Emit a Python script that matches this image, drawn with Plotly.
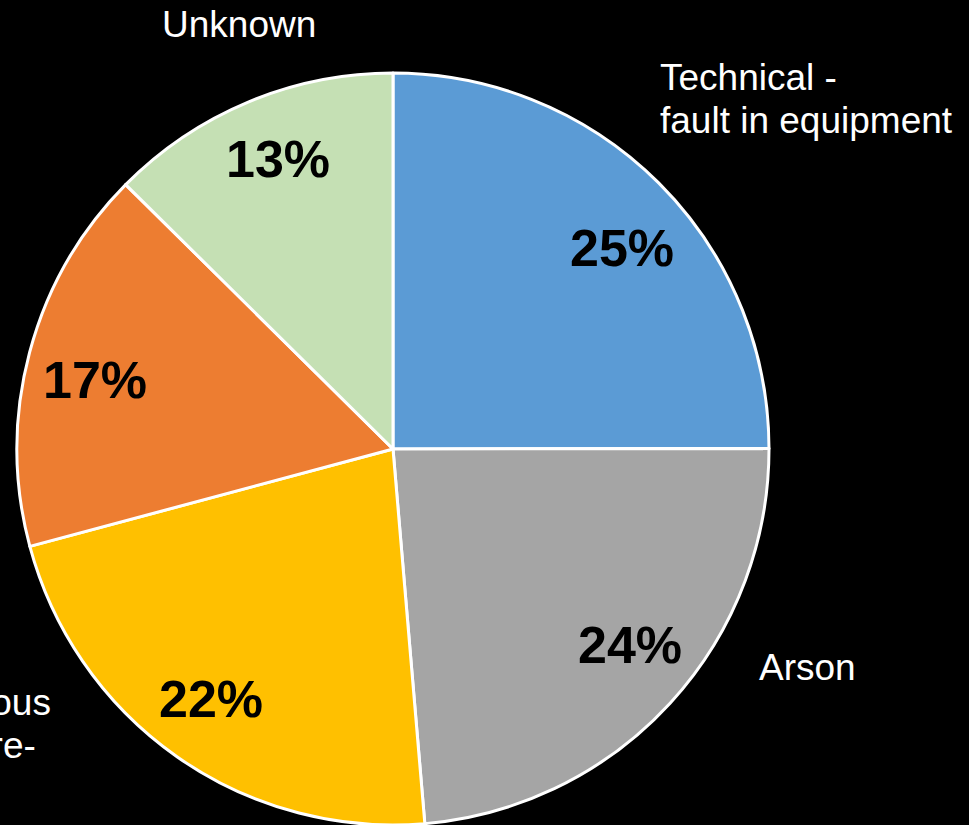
import math
import plotly.graph_objects as go

# ---- data ----
categories = ["Technical - fault in equipment", "Arson", "Careless/erroneous use of fire-related equipment",
              "Other causes", "Unknown"]
values = [25.0, 23.7, 22.2, 16.6, 12.6]
colors = ["#5B9BD5", "#A5A5A5", "#FFC000", "#ED7D31", "#C5E0B4"]

W, H = 969, 825
CX, CY, R = 393, 450, 377  # pie geometry in pixels

fig = go.Figure()
fig.add_trace(go.Pie(
    labels=categories,
    values=values,
    sort=False,
    direction="clockwise",
    rotation=0,
    marker=dict(colors=colors, line=dict(color="white", width=3)),
    textinfo="none",
    hoverinfo="label+percent",
    showlegend=False,
    domain=dict(x=[(CX - R) / W, (CX + R) / W], y=[0, 1 - (CY - R) / H]),
))

# percentage labels placed near each slice's mid-angle (small pixel nudges as in the original)
pct_nudge = [(11, 18), (9, -13), (-4, -3), (1, 10), (4, -5)]
total = sum(values)
cum = 0.0
annotations = []
for v, (nx, ny) in zip(values, pct_nudge):
    mid = (cum + v / 2) / total * 2 * math.pi
    cum += v
    px = CX + 0.82 * R * math.sin(mid) + nx
    py = CY - 0.82 * R * math.cos(mid) + ny - 1
    annotations.append(dict(
        x=px / W, y=1 - py / H, xref="paper", yref="paper",
        text=f"{round(v / total * 100)}%", showarrow=False,
        font=dict(family="Liberation Sans, Arial", size=52, color="black", weight="bold"),
        xanchor="center", yanchor="middle",
    ))

# category labels outside the pie (one annotation per text line for tight line spacing)
outer = [
    ("Technical -", 658, 77, "left"),
    ("fault in equipment", 658, 120, "left"),
    ("Arson", 757, 667, "left"),
    ("Careless/erroneous", 53, 702, "right"),
    ("use of fire-", 38, 745, "right"),
    ("Unknown", 239, 25, "center"),
]
for t, x, y, anc in outer:
    annotations.append(dict(
        x=x / W, y=1 - y / H, xref="paper", yref="paper",
        text=t, showarrow=False, align="left",
        font=dict(family="Liberation Sans, Arial", size=37, color="white"),
        xanchor=anc, yanchor="middle",
    ))

fig.update_layout(
    width=W, height=H,
    margin=dict(l=0, r=0, t=0, b=0),
    paper_bgcolor="black", plot_bgcolor="black",
    annotations=annotations,
)
fig.write_html(
    "out.html",
    config={"displayModeBar": False},
    post_script="document.body.style.margin='0';document.body.style.background='black';",
)
